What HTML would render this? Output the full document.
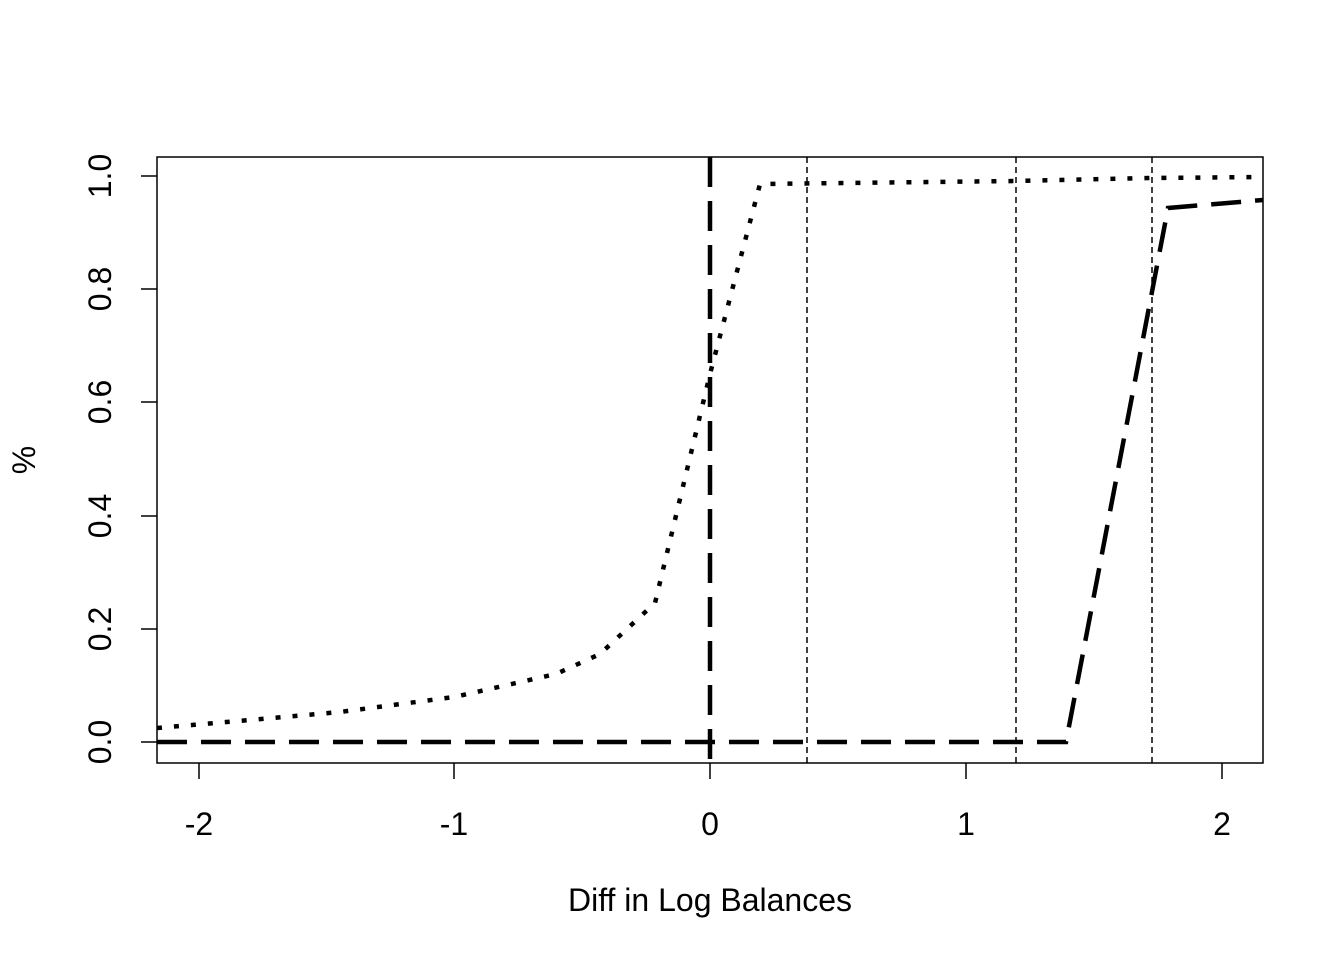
<!DOCTYPE html>
<html><head><style>body{margin:0;background:#fff}</style></head><body>
<svg width="1344" height="960" xmlns="http://www.w3.org/2000/svg" font-family="Liberation Sans, sans-serif" font-size="32">
<rect x="157" y="157" width="1106" height="606" fill="none" stroke="#000" stroke-width="1.5"/>
<g stroke="#000" stroke-width="1.5">
<line x1="199" y1="763" x2="199" y2="779"/><line x1="454" y1="763" x2="454" y2="779"/><line x1="710" y1="763" x2="710" y2="779"/><line x1="966" y1="763" x2="966" y2="779"/><line x1="1222" y1="763" x2="1222" y2="779"/>
<line x1="141" y1="742" x2="157" y2="742"/><line x1="141" y1="629" x2="157" y2="629"/><line x1="141" y1="516" x2="157" y2="516"/><line x1="141" y1="402" x2="157" y2="402"/><line x1="141" y1="289" x2="157" y2="289"/><line x1="141" y1="176" x2="157" y2="176"/>
</g>
<g text-anchor="middle">
<text x="199" y="835">-2</text><text x="454" y="835">-1</text><text x="710" y="835">0</text><text x="966" y="835">1</text><text x="1222" y="835">2</text>
<text x="710" y="911">Diff in Log Balances</text>
<g transform="translate(111,0)">
<text transform="translate(0,742) rotate(-90)">0.0</text>
<text transform="translate(0,629) rotate(-90)">0.2</text>
<text transform="translate(0,516) rotate(-90)">0.4</text>
<text transform="translate(0,402) rotate(-90)">0.6</text>
<text transform="translate(0,289) rotate(-90)">0.8</text>
<text transform="translate(0,176) rotate(-90)">1.0</text>
</g>
<text transform="translate(35,460) rotate(-90)">%</text>
</g>
<g fill="none" stroke="#000">
<line x1="807" y1="157" x2="807" y2="763" stroke-width="1.5" stroke-dasharray="6,4"/>
<line x1="1016" y1="157" x2="1016" y2="763" stroke-width="1.5" stroke-dasharray="6,4"/>
<line x1="1152" y1="157" x2="1152" y2="763" stroke-width="1.5" stroke-dasharray="6,4"/>
<line x1="710" y1="157" x2="710" y2="763" stroke-width="4.5" stroke-dasharray="30,14"/>
<polyline stroke-width="4.5" stroke-dasharray="5,12" points="157,728 250,720 340,712 454,697 556,674 600,654 655,603 710,374 760,184 1016,181 1152,178 1263,177"/>
<polyline stroke-width="4.5" stroke-dasharray="30,14" points="157,742 1066,742 1168,208 1263,200"/>
</g>
</svg>
</body></html>
